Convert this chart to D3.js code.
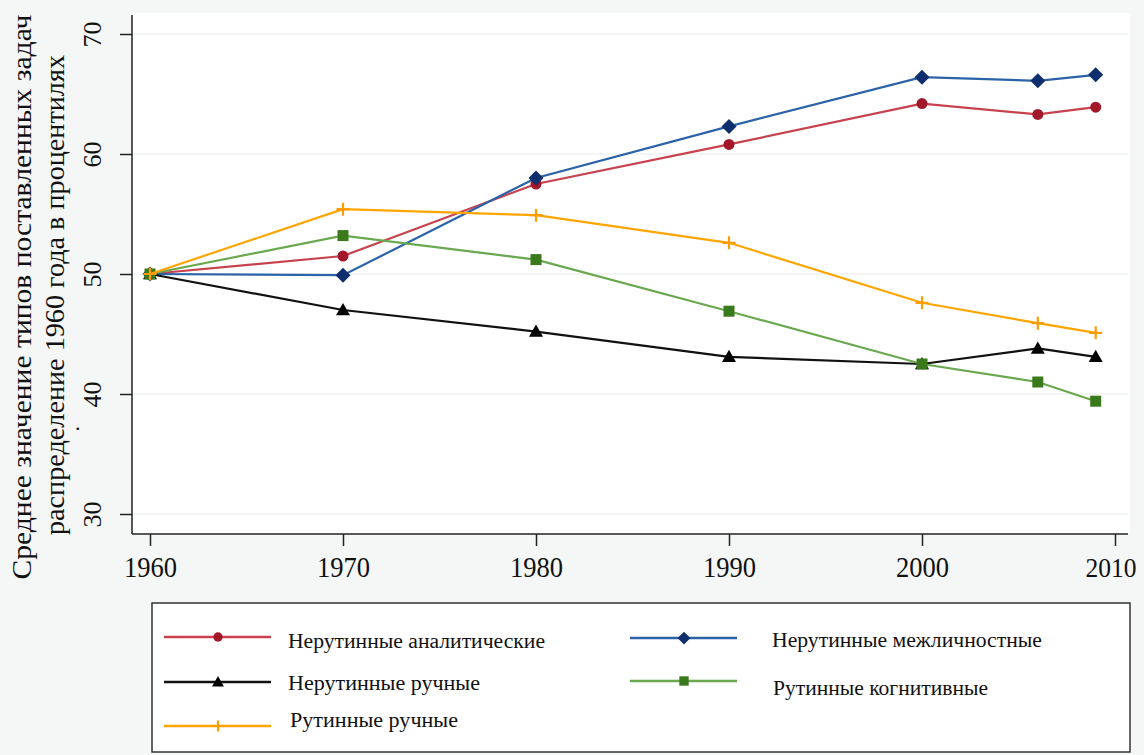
<!DOCTYPE html>
<html><head><meta charset="utf-8">
<script src="https://cdn.jsdelivr.net/npm/d3@7"></script>
<style>
html,body{margin:0;padding:0;background:#f4f7f6;}
svg{display:block;}
text{font-family:"Liberation Serif","Times New Roman",serif;fill:#111;}
</style></head>
<body>
<svg id="c" width="1144" height="755"></svg>
<script>
const years = [1960, 1970, 1980, 1990, 2000, 2006, 2009];
const analytic = [50, 51.5, 57.5, 60.8, 64.2, 63.3, 63.9];
const interpersonal = [50, 49.9, 58.0, 62.3, 66.4, 66.1, 66.6];
const manualNR = [50, 47.0, 45.2, 43.1, 42.5, 43.8, 43.1];
const cognitiveR = [50, 53.2, 51.2, 46.9, 42.5, 41.0, 39.4];
const manualR = [50, 55.4, 54.9, 52.6, 47.6, 45.9, 45.1];
const xTicks = [1960, 1970, 1980, 1990, 2000, 2010];
const yTicks = [30, 40, 50, 60, 70];
const seriesNames = ["Нерутинные аналитические", "Нерутинные межличностные", "Нерутинные ручные", "Рутинные когнитивные", "Рутинные ручные"];
const yTitle = ["Среднее значение  типов  поставленных  задач", "распределение  1960 года в процентилях"];

const series = [
  {name: seriesNames[0], values: analytic, line: "#c8424e", mark: "#a3172a", shape: "circle"},
  {name: seriesNames[1], values: interpersonal, line: "#2c62a8", mark: "#0d2f6e", shape: "diamond"},
  {name: seriesNames[2], values: manualNR, line: "#111111", mark: "#000000", shape: "triangle"},
  {name: seriesNames[3], values: cognitiveR, line: "#6aa84f", mark: "#3b7a1c", shape: "square"},
  {name: seriesNames[4], values: manualR, line: "#ffa500", mark: "#ff9c00", shape: "plus"}
];

const svg = d3.select("#c");
const x = d3.scaleLinear().domain([1960, 2010]).range([150, 1115]);
const y = d3.scaleLinear().domain([30, 70]).range([514, 34]);

// plot area
svg.append("rect").attr("x", 133).attr("y", 13).attr("width", 997).attr("height", 521).attr("fill", "#ffffff");

// grid
svg.append("g").selectAll("line").data(yTicks).join("line")
  .attr("x1", 134).attr("x2", 1128).attr("y1", d => y(d)).attr("y2", d => y(d))
  .attr("stroke", "#eef2f1").attr("stroke-width", 1.5);

// axes
const yAxis = svg.append("g").attr("transform", "translate(132,0)")
  .call(d3.axisLeft(y).tickValues(yTicks).tickSize(12).tickFormat(d3.format("d")));
yAxis.select(".domain").attr("d", "M0,15V534").attr("stroke", "#222").attr("stroke-width", 1.5);
yAxis.selectAll(".tick line").attr("stroke", "#222").attr("stroke-width", 1.5);
yAxis.selectAll(".tick text").attr("font-size", 26).attr("text-anchor", "middle")
  .attr("x", 0).attr("dy", 0)
  .attr("transform", "translate(-31,0) rotate(-90)")
  .attr("font-family", "Liberation Serif").attr("fill", "#111");

const xAxis = svg.append("g").attr("transform", "translate(0,534)")
  .call(d3.axisBottom(x).tickValues(xTicks).tickSize(12).tickFormat(d3.format("d")));
xAxis.select(".domain").attr("d", "M132,0H1128").attr("stroke", "#222").attr("stroke-width", 1.5);
xAxis.selectAll(".tick line").attr("stroke", "#222").attr("stroke-width", 1.5);
xAxis.selectAll(".tick text").attr("font-size", 30).attr("y", 0).attr("dy", 0)
  .attr("transform", "translate(0,43)")
  .attr("textLength", 53).attr("lengthAdjust", "spacingAndGlyphs")
  .attr("font-family", "Liberation Serif").attr("fill", "#111");
// keep the last label inside the picture
xAxis.selectAll(".tick text").filter(d => d === 2010)
  .attr("text-anchor", "end").attr("x", 21).attr("font-size", 28).attr("textLength", 51);

// y title
svg.append("text").attr("transform", "translate(31,297) rotate(-90)").attr("text-anchor", "middle")
  .attr("font-size", 27).attr("textLength", 565).attr("lengthAdjust", "spacingAndGlyphs").text(yTitle[0]);
svg.append("text").attr("transform", "translate(64,295) rotate(-90)").attr("text-anchor", "middle")
  .attr("font-size", 27).attr("textLength", 480).attr("lengthAdjust", "spacingAndGlyphs").text(yTitle[1]);
svg.append("text").attr("x", 75).attr("y", 430).attr("font-size", 22).text(".");

function drawMarker(g, shape, cx, cy, color, scale) {
  const s = scale || 1;
  if (shape === "circle") {
    g.append("circle").attr("cx", cx).attr("cy", cy).attr("r", 5.5 * s).attr("fill", color);
  } else if (shape === "diamond") {
    const r = 7.5 * s;
    g.append("path").attr("d", `M${cx},${cy - r}L${cx + r},${cy}L${cx},${cy + r}L${cx - r},${cy}Z`).attr("fill", color);
  } else if (shape === "triangle") {
    const r = 7 * s;
    g.append("path").attr("d", `M${cx},${cy - r}L${cx + r},${cy + r * 0.75}L${cx - r},${cy + r * 0.75}Z`).attr("fill", color);
  } else if (shape === "square") {
    const r = 5.5 * s;
    g.append("rect").attr("x", cx - r).attr("y", cy - r).attr("width", 2 * r).attr("height", 2 * r).attr("fill", color);
  } else if (shape === "plus") {
    const r = 6.5 * s;
    g.append("path").attr("d", `M${cx - r},${cy}H${cx + r}M${cx},${cy - r}V${cy + r}`).attr("stroke", color).attr("stroke-width", 2.2).attr("fill", "none");
  }
}

const line = d3.line().x((d, i) => x(years[i])).y(d => y(d));
series.forEach(s => {
  const g = svg.append("g");
  g.append("path").datum(s.values).attr("d", line).attr("fill", "none").attr("stroke", s.line).attr("stroke-width", 2.2);
  s.values.forEach((v, i) => drawMarker(g, s.shape, x(years[i]), y(v), s.mark));
});

// legend
svg.append("rect").attr("x", 152).attr("y", 603).attr("width", 978).attr("height", 149)
  .attr("fill", "#ffffff").attr("stroke", "#333").attr("stroke-width", 1.5);
const legendPos = [
  {lx: 164, ly: 637, tx: 288, ty: 648, w: 257},
  {lx: 630, ly: 638, tx: 772, ty: 647, w: 270},
  {lx: 164, ly: 682, tx: 288, ty: 690, w: 192},
  {lx: 630, ly: 681, tx: 773, ty: 695, w: 215},
  {lx: 164, ly: 726, tx: 290, ty: 727, w: 168}
];
series.forEach((s, i) => {
  const p = legendPos[i];
  const g = svg.append("g");
  g.append("line").attr("x1", p.lx).attr("x2", p.lx + 107).attr("y1", p.ly).attr("y2", p.ly)
    .attr("stroke", s.line).attr("stroke-width", 2.5);
  drawMarker(g, s.shape, p.lx + 54, p.ly, s.mark, 0.85);
  g.append("text").attr("x", p.tx).attr("y", p.ty).attr("font-size", 20)
    .attr("textLength", p.w).attr("lengthAdjust", "spacingAndGlyphs").text(s.name);
});
</script>
</body></html>
